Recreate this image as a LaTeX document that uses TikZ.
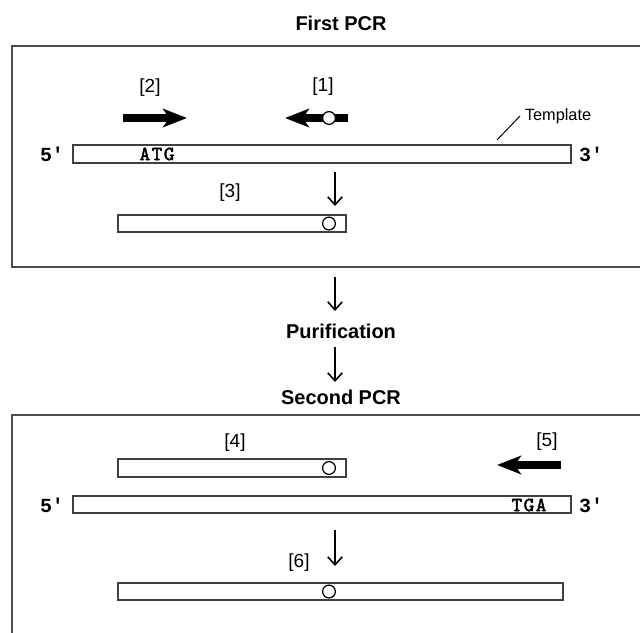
\documentclass[tikz,border=0pt]{standalone}
\usepackage{fontspec}
\setmainfont{Liberation Sans}
\setmonofont{Liberation Mono}
\newfontfamily\basefont[FakeBold=2.2,LetterSpace=7.5]{lmmono10-regular.otf}
\usetikzlibrary{arrows.meta}

\tikzset{
  frame/.style={draw=black!70, line width=1.3pt},
  strand/.style={draw=black!75, line width=1pt, fill=white},
  primer/.style={line width=0.2cm, -{Stealth[length=0.6cm,width=0.46cm,inset=0.16cm]}},
  flow/.style={line width=1.1pt, -{Straight Barb[length=0.2cm,width=0.36cm]}},
  tag/.style={font=\fontsize{13.5}{16}\selectfont},
  stage/.style={font=\fontsize{14.2}{17}\selectfont\bfseries},
  seq/.style={font=\fontsize{14.4}{17}\selectfont\basefont},
  endmark/.style={font=\fontsize{14.2}{17}\selectfont\ttfamily\bfseries},
  mut/.style={circle, draw=black, line width=0.9pt, fill=white, minimum size=0.32cm, inner sep=0pt},
}

\begin{document}
\begin{tikzpicture}[x=0.025cm, y=-0.025cm]
  \useasboundingbox (0,0) rectangle (640,633);

  % frames of the two reactions
  \draw[frame] (641,46) -- (12,46) -- (12,267) -- (641,267);
  \draw[frame] (641,415) -- (12,415) -- (12,634);

  % stage titles
  \node[stage] (first) at (341,23) {First PCR};
  \node[stage] (purif) at (341,331) {Purification};
  \node[stage] (second) at (341,397) {Second PCR};

  % first PCR
  \node[tag] (l2) at (150,88) {[2]};
  \node[tag] (l1) at (323,87) {[1]};
  \coordinate (p2a) at (123,118); \coordinate (p2b) at (187,118);
  \coordinate (p1a) at (348,118); \coordinate (p1b) at (285,118);
  \draw[primer] (p2a) -- (p2b);
  \draw[primer] (p1a) -- (p1b);
  \node[mut] (m1) at (329,118) {};

  \draw[strand] (73,145) rectangle (571,163);
  \node[endmark] (fa) at (52,154) {5'};
  \node[endmark] (ta) at (591,154) {3'};
  \node[seq] (atg) at (157,154) {ATG};
  \node[font=\fontsize{11.6}{14}\selectfont, anchor=west] (tmpl) at (520,116) {Template};
  \coordinate (tp) at (497,140);
  \draw[line width=0.7pt] (tp) -- (tmpl.west);

  \coordinate (d1a) at (335,172); \coordinate (d1b) at (335,206);
  \draw[flow] (d1a) -- (d1b);
  \node[tag] (l3) at (230,193) {[3]};
  \draw[strand] (118,215) rectangle (346,232);
  \node[mut] (m3) at (329,223.5) {};

  % between the two reactions
  \coordinate (d2a) at (335,277); \coordinate (d2b) at (335,311);
  \coordinate (d3a) at (335,347); \coordinate (d3b) at (335,382);
  \draw[flow] (d2a) -- (d2b);
  \draw[flow] (d3a) -- (d3b);

  % second PCR
  \node[tag] (l4) at (235,443) {[4]};
  \draw[strand] (118,459) rectangle (346,477);
  \node[mut] (m4) at (329,468) {};
  \node[tag] (l5) at (547,442) {[5]};
  \coordinate (p5a) at (561,465); \coordinate (p5b) at (497,465);
  \draw[primer] (p5a) -- (p5b);

  \draw[strand] (73,496) rectangle (571,513);
  \node[endmark] (fb) at (52,505) {5'};
  \node[endmark] (tb) at (591,505) {3'};
  \node[seq] (tga) at (529,505) {TGA};

  \coordinate (d4a) at (335,530); \coordinate (d4b) at (335,566);
  \draw[flow] (d4a) -- (d4b);
  \node[tag] (l6) at (299,563) {[6]};
  \draw[strand] (118,583) rectangle (563,600);
  \node[mut] (m6) at (329,591.5) {};
\end{tikzpicture}
\end{document}
